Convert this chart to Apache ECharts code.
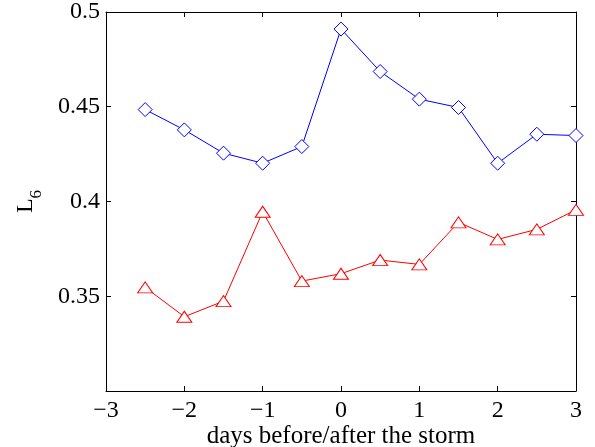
<!DOCTYPE html>
<html>
<head>
<meta charset="utf-8">
<script src="https://cdn.jsdelivr.net/npm/echarts@6/dist/echarts.min.js"></script>
<style>html,body{margin:0;padding:0;background:#fff}#c{width:595px;height:447px}</style>
</head>
<body>
<div id="c"></div>
<script>
var days = [-2.5, -2, -1.5, -1, -0.5, 0, 0.5, 1, 1.5, 2, 2.5, 3];
var blueVals = [0.4485, 0.4378, 0.4255, 0.4202, 0.4290, 0.4910, 0.4686, 0.4540, 0.4496, 0.4202, 0.4355, 0.4348];
var redVals = [0.3547, 0.3392, 0.3474, 0.3946, 0.3580, 0.3619, 0.3691, 0.3668, 0.3890, 0.3800, 0.3853, 0.3956];
var xLabel = 'days before/after the storm';
var yLabelMain = 'L';
var yLabelSub = '6';

var FONT = 'Liberation Serif';
function pairs(vals){ return days.map(function(d,i){ return [d, vals[i]]; }); }
function fmtX(v){ return v < 0 ? '\u2212' + Math.abs(v) : String(v); }
function fmtY(v){ return v < 0.31 ? '' : String(+v.toFixed(2)); }

var chart = echarts.init(document.getElementById('c'), null, {renderer:'canvas'});
var axisLine = {show:true, onZero:false, lineStyle:{color:'#000', width:1}};
var tickIn = {show:true, inside:true, length:5, lineStyle:{color:'#000', width:1}};
chart.setOption({
  animation:false,
  backgroundColor:'#fff',
  grid:{left:106, top:12, right:19, bottom:56, containLabel:false, outerBoundsMode:'none'},
  xAxis:[
    {type:'value', min:-3, max:3, interval:1, position:'bottom',
     axisLine:axisLine, axisTick:tickIn, splitLine:{show:false},
     axisLabel:{formatter:fmtX, fontFamily:FONT, fontSize:24, color:'#000', margin:8},
     name:xLabel, nameLocation:'middle', nameGap:33, nameMoveOverlap:false,
     nameTextStyle:{fontFamily:FONT, fontSize:25, color:'#000'}},
    {type:'value', min:-3, max:3, interval:1, position:'top',
     axisLine:axisLine, axisTick:tickIn, splitLine:{show:false}, axisLabel:{show:false}}
  ],
  yAxis:[
    {type:'value', min:0.3, max:0.5, interval:0.05, position:'left',
     axisLine:axisLine, axisTick:tickIn, splitLine:{show:false},
     axisLabel:{formatter:fmtY, fontFamily:FONT, fontSize:24, color:'#000', margin:6},
     name:'{m|' + yLabelMain + '}{s|' + yLabelSub + '}', nameLocation:'middle', nameGap:61, nameRotate:90,
     nameTextStyle:{fontFamily:FONT, fontSize:24, color:'#000',
       rich:{m:{fontFamily:FONT, fontSize:24, color:'#000'},
             s:{fontFamily:FONT, fontSize:17, color:'#000', verticalAlign:'bottom', padding:[22,0,0,0]}}}},
    {type:'value', min:0.3, max:0.5, interval:0.05, position:'right',
     axisLine:axisLine, axisTick:tickIn, splitLine:{show:false}, axisLabel:{show:false}}
  ],
  series:[
    {type:'line', data:pairs(blueVals), symbol:'diamond', symbolSize:[14,14],
     lineStyle:{color:'#0000ff', width:1}, itemStyle:{color:'#fff', borderColor:'#0000ff', borderWidth:1}, z:3},
    {type:'line', data:pairs(redVals), symbol:'triangle', symbolSize:[15,11],
     lineStyle:{color:'#ff0000', width:1}, itemStyle:{color:'#fff', borderColor:'#ff0000', borderWidth:1}, z:3}
  ]
});
</script>
</body>
</html>
